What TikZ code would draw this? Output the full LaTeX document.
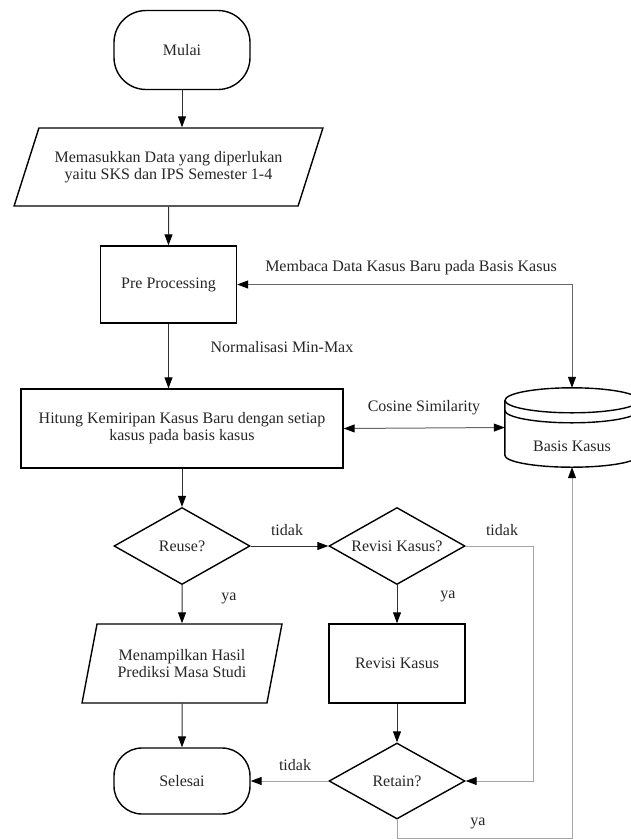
\documentclass[tikz,border=0pt]{standalone}
\usepackage{fontspec}
\setmainfont{Liberation Serif}
\usetikzlibrary{arrows.meta, positioning, shapes.geometric, calc}
\definecolor{color_line}{RGB}{50,50,50}
\definecolor{color_loop}{RGB}{165,165,165}

\begin{document}
\begin{tikzpicture}[x=1pt, y=1pt,
	font=\fontsize{16}{17}\selectfont,
	every node/.append style={text=black!85},
	terminal/.style={draw, line width=1.4pt, rectangle, rounded corners=32pt, minimum width=136pt, minimum height=79pt},
	io/.style={draw, line width=1.4pt, trapezium, trapezium stretches=true, inner sep=2pt, align=center},
	process/.style={draw, line width=1.4pt, rectangle, minimum width=136pt, minimum height=78pt, align=center},
	decision/.style={draw, line width=1.4pt, diamond, aspect=1.75, inner sep=1pt, minimum width=136pt, minimum height=77pt},
	arrow/.style={line width=1pt, draw=color_line, -{Triangle[length=11pt, width=8pt, color=black]}},
	both/.style={line width=1pt, draw=black!60, {Triangle[length=11pt, width=8pt, color=black]}-{Triangle[length=11pt, width=8pt, color=black]}},
	back/.style={line width=1pt, draw=color_loop, -{Triangle[length=11pt, width=8pt, color=black]}},
	lbl/.style={inner sep=0pt}]
	\useasboundingbox (0,0) rectangle (630,-839);
	% MAIN FLOW
	\node[terminal] (mulai) at (182,-50) {Mulai};
	\node[io, trapezium left angle=58, trapezium right angle=122, minimum width=309pt, minimum height=78pt] (input) at (168.5,-167)
		{Memasukkan Data yang diperlukan\\yaitu SKS dan IPS Semester 1-4};
	\node[process, minimum height=77pt] (pre) at (168.5,-284.5) {Pre Processing};
	\node[process, minimum width=322pt, minimum height=79pt] (hitung) at (182,-428.5)
		{Hitung Kemiripan Kasus Baru dengan setiap\\kasus pada basis kasus};
	\node[decision] (reuse) at (182,-546) {Reuse?};
	\node[io, trapezium left angle=70, trapezium right angle=110, minimum width=200pt, minimum height=79pt] (tampil) at (182,-663.5)
		{Menampilkan Hasil\\Prediksi Masa Studi};
	\node[terminal, minimum height=66pt, rounded corners=28pt] (selesai) at (182,-781) {Selesai};
	% REVISI
	\node[decision] (revisi) at (397,-546) {Revisi Kasus?};
	\node[process, minimum height=79pt] (revbox) at (397,-663.5) {Revisi Kasus};
	\node[decision, minimum height=76pt] (retain) at (397,-781) {Retain?};
	% BASIS KASUS
	\node[minimum width=134pt, minimum height=79pt] (basis) at (572,-427.5) {};
	\draw[line width=1.4pt] ($(basis.north)+(0,-12.5)$) ellipse [x radius=67pt, y radius=12.5pt];
	\draw[line width=1.4pt] ($(basis.north west)+(0,-22.5)$) arc[start angle=180, end angle=360, x radius=67pt, y radius=12.5pt];
	\draw[line width=1.4pt] ($(basis.north west)+(0,-12.5)$) -- ($(basis.south west)+(0,12)$)
		arc[start angle=180, end angle=360, x radius=67pt, y radius=12pt] -- ($(basis.north east)+(0,-12.5)$);
	\node (basistext) at ($(basis.center)+(0,-19)$) {Basis Kasus};
	% CONNECTORS
	\draw[arrow] (mulai.south) -- (mulai.south |- input.north);
	\draw[arrow] (input.south) -- (pre.north);
	\draw[arrow] (pre.south) -- (pre.south |- hitung.north);
	\draw[both] (pre.east) -| (basis.north);
	\draw[both] (hitung.east) -- (basis.west);
	\draw[arrow] (hitung.south) -- (reuse.north);
	\draw[arrow] (reuse.east) -- (revisi.west);
	\draw[arrow] (reuse.south) -- (tampil.north);
	\draw[arrow] (tampil.south) -- (selesai.north);
	\draw[arrow] (revisi.south) -- (revbox.north);
	\draw[arrow] (revbox.south) -- (retain.north);
	\draw[back] (revisi.east) -- ++(68,0) |- (retain.east);
	\draw[back] (retain.west) -- (selesai.east);
	\draw[back] (retain.south) -- ++(0,-19) -| (basis.south);
	% LABELS
	\node[lbl] (lmembaca) at (411,-268) {Membaca Data Kasus Baru pada Basis Kasus};
	\node[lbl] (lnorm) at (282,-347) {Normalisasi Min-Max};
	\node[lbl] (lcosine) at (424,-408) {Cosine Similarity};
	\node[lbl] (ltidakA) at (287,-530) {tidak};
	\node[lbl] (ltidakB) at (502,-530) {tidak};
	\node[lbl] (lyaA) at (229,-598) {ya};
	\node[lbl] (lyaB) at (448,-596) {ya};
	\node[lbl] (ltidakC) at (295,-765) {tidak};
	\node[lbl] (lyaC) at (478,-823) {ya};
\end{tikzpicture}
\end{document}
